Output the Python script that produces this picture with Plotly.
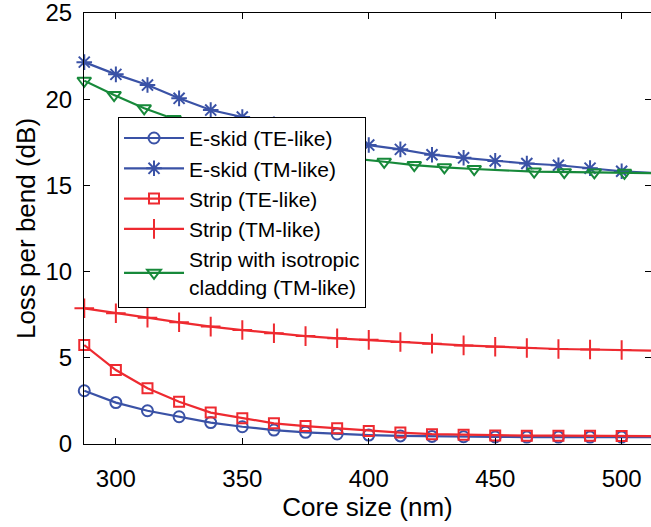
import numpy as np
import plotly.graph_objects as go

core_size = [287.5, 300, 312.5, 325, 337.5, 350, 362.5, 375, 387.5, 400,
             412.5, 425, 437.5, 450, 462.5, 475, 487.5, 500, 512.5]

eskid_te = [3.09, 2.40, 1.93, 1.58, 1.24, 1.00, 0.81, 0.68, 0.58, 0.52,
            0.47, 0.44, 0.42, 0.41, 0.40, 0.40, 0.40, 0.40, 0.40]
eskid_tm = [22.15, 21.44, 20.82, 20.05, 19.37, 18.97, 18.55, 18.12, 17.72, 17.34,
            17.09, 16.78, 16.60, 16.42, 16.27, 16.17, 16.00, 15.82, 15.72]
strip_te = [5.74, 4.29, 3.23, 2.45, 1.82, 1.49, 1.20, 1.04, 0.91, 0.75,
            0.66, 0.57, 0.53, 0.50, 0.48, 0.48, 0.48, 0.47, 0.46]
strip_tm = [7.87, 7.58, 7.33, 7.06, 6.81, 6.61, 6.42, 6.26, 6.13, 6.04,
            5.92, 5.82, 5.72, 5.64, 5.57, 5.51, 5.48, 5.45, 5.41]

iso_size = [287.5, 299.3, 311.2, 323.0, 334.9, 346.7, 358.6, 370.5, 382.4, 394.2,
            406.1, 418.0, 429.9, 441.7, 465.4, 477.3, 489.2, 501.1, 512.5]
iso_tm = [21.07, 20.24, 19.47, 18.85, 18.30, 17.80, 17.40, 17.05, 16.78, 16.55,
          16.37, 16.18, 16.05, 15.95, 15.80, 15.77, 15.75, 15.73, 15.71]

labels = ["E-skid (TE-like)", "E-skid (TM-like)", "Strip (TE-like)",
          "Strip (TM-like)", "Strip with isotropic<br>cladding (TM-like)"]

BLUE = "#3a52a6"
RED = "#ee2a30"
GREEN = "#17893a"

fig = go.Figure()

def add(x, y, name, color, symbol, size):
    fig.add_trace(go.Scatter(
        x=x, y=y, name=name, mode="lines+markers", cliponaxis=False,
        line=dict(color=color, width=2.2),
        marker=dict(symbol=symbol, size=size, color=color,
                    line=dict(color=color, width=2)),
    ))

add(core_size, eskid_te, labels[0], BLUE, "circle-open", 11)
add(core_size, eskid_tm, labels[1], BLUE, "asterisk-open", 13)
add(core_size, strip_te, labels[2], RED, "square-open", 10)
add(core_size, strip_tm, labels[3], RED, "cross-thin-open", 14)
add(iso_size, iso_tm, labels[4], GREEN, "triangle-down-open", 12)

FONT = "Liberation Sans, Arial, Helvetica, sans-serif"

fig.update_layout(
    width=651, height=527,
    margin=dict(l=84, r=0, t=13, b=83),
    paper_bgcolor="white", plot_bgcolor="white",
    font=dict(family=FONT, color="black"),
    showlegend=True,
    legend=dict(
        x=0.06, y=0.759, xanchor="left", yanchor="top",
        bgcolor="white", bordercolor="black", borderwidth=1,
        font=dict(size=21, family=FONT, color="black"),
        tracegroupgap=0, itemwidth=60,
    ),
    xaxis=dict(
        range=[287.4, 511.6], tickvals=[300, 350, 400, 450, 500],
        ticks="inside", ticklen=6, tickcolor="black",
        showline=True, linecolor="black", linewidth=1, mirror="ticks",
        showgrid=False, zeroline=False,
        tickfont=dict(size=24), ticklabelstandoff=13, ticklabeloverflow="allow",
        title=dict(text="Core size (nm)", font=dict(size=26), standoff=6),
    ),
    yaxis=dict(
        range=[0, 25], tickvals=[0, 5, 10, 15, 20, 25],
        ticks="inside", ticklen=6, tickcolor="black",
        showline=True, linecolor="black", linewidth=1, mirror="ticks",
        showgrid=False, zeroline=False,
        tickfont=dict(size=24), ticklabelstandoff=6, ticklabeloverflow="allow",
        title=dict(text="Loss per bend (dB)", font=dict(size=26), standoff=2),
    ),
)

fig.write_html(
    "out.html",
    config={"displayModeBar": False},
    post_script="document.body.style.margin='0';document.body.style.overflow='hidden';",
)
